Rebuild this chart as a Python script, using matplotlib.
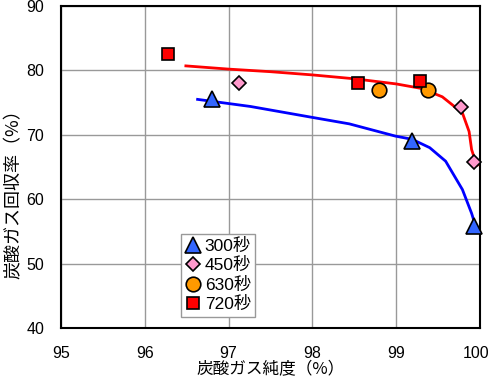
import matplotlib
matplotlib.use("Agg")
import matplotlib.pyplot as plt
import matplotlib.transforms as mtransforms

# measured points
x300 = [96.80, 99.19, 99.93]
y300 = [75.5, 69.0, 55.8]
x450 = [97.13, 99.77, 99.93]
y450 = [78.1, 74.3, 65.7]
x630 = [98.79, 99.38]
y630 = [76.9, 76.9]
x720 = [96.28, 98.55, 99.28]
y720 = [82.6, 78.1, 78.3]

# fitted curves
red_x = [96.49, 97.0, 97.5, 98.0, 98.5, 99.0, 99.3, 99.55, 99.79, 99.87, 99.90, 99.94, 99.97]
red_y = [80.7, 80.2, 79.8, 79.3, 78.7, 77.9, 77.2, 75.9, 73.4, 70.5, 67.7, 66.1, 65.3]
blue_x = [96.63, 97.26, 98.0, 98.44, 98.99, 99.19, 99.40, 99.59, 99.79, 99.90, 99.96]
blue_y = [75.5, 74.4, 72.7, 71.7, 69.8, 69.3, 68.0, 65.9, 61.5, 57.8, 55.3]

labels = ["300秒", "450秒", "630秒", "720秒"]

fig = plt.figure(figsize=(4.91, 3.85), dpi=100)
ax = fig.add_axes([61/491, 57/385, 419/491, 322/385])

ax.plot(red_x, red_y, color="#ff0000", lw=2, zorder=3)
ax.plot(blue_x, blue_y, color="#0000ff", lw=2, zorder=3)

kw = dict(ls="none", mec="black", mew=1.2, zorder=4, clip_on=False)
ax.plot(x300, y300, marker="^", ms=12, mfc="#3366ff", label=labels[0], **kw)
ax.plot(x450, y450, marker="D", ms=7.5, mfc="#ff99cc", label=labels[1], **kw)
ax.plot(x630, y630, marker="o", ms=10.5, mfc="#ff9900", label=labels[2], **kw)
ax.plot(x720, y720, marker="s", ms=9, mfc="#ff0000", label=labels[3], **kw)

ax.set_xlim(95, 100)
ax.set_ylim(40, 90)
ax.set_xticks([95, 96, 97, 98, 99, 100])
ax.set_yticks([40, 50, 60, 70, 80, 90])
ax.grid(True, color="#999999", lw=1)
ax.set_axisbelow(True)
for s in ax.spines.values():
    s.set_linewidth(1.5)
    s.set_color("black")
ax.tick_params(axis="x", length=0, pad=13)
ax.tick_params(axis="y", length=0, pad=12)
for t in ax.get_xticklabels() + ax.get_yticklabels():
    t.set_family(["Liberation Sans", "DejaVu Sans"])
    t.set_fontsize(11.5)

# nudge the last x label left so it stays inside the canvas
last = ax.get_xticklabels()[-1]
last.set_transform(last.get_transform() + mtransforms.ScaledTranslation(-4/100, 0, fig.dpi_scale_trans))

jp = ["Noto Sans CJK JP", "DejaVu Sans"]
ax.set_xlabel("炭酸ガス純度（%）", family=jp, fontsize=12, labelpad=0)
ax.set_ylabel("炭酸ガス回収率（%）", family=jp, fontsize=13)
ax.yaxis.set_label_coords(-0.092, 0.43)

leg = ax.legend(loc="lower left", bbox_to_anchor=(0.287, 0.035),
                prop={"family": ["Liberation Sans", "Noto Sans CJK JP"], "size": 12.5},
                fancybox=False, framealpha=1, edgecolor="#999999", handlelength=0.8,
                handletextpad=0.3, labelspacing=0.2, borderpad=0.25, borderaxespad=0)
leg.get_frame().set_linewidth(1)

fig.savefig("out.png", dpi=100)
